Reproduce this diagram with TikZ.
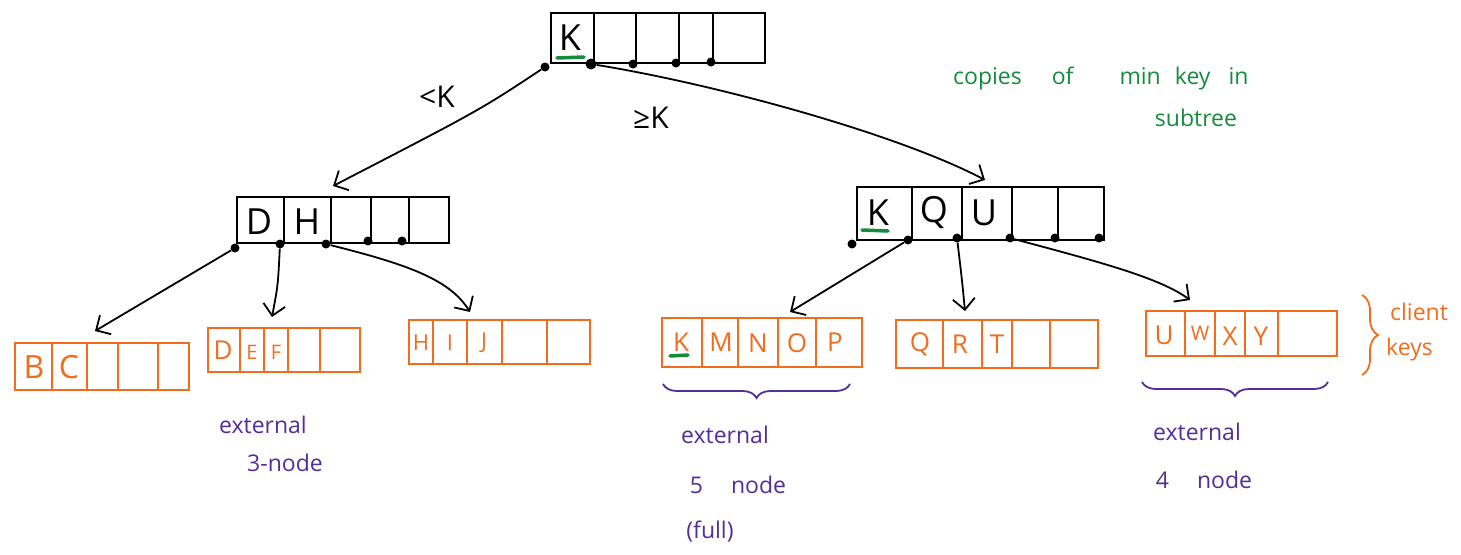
\documentclass[tikz,border=0pt]{standalone}
\usepackage{fontspec}
\setmainfont{Open Sans}
\usetikzlibrary{arrows.meta,decorations.pathreplacing,calc}
\definecolor{inkorange}{RGB}{242,108,30}
\definecolor{inkgreen}{RGB}{20,140,60}
\definecolor{inkpurple}{RGB}{85,45,150}
\tikzset{
  bbox/.style={draw=black, line width=2pt, inner sep=0pt},
  obox/.style={draw=inkorange, line width=2pt, inner sep=0pt},
  bline/.style={draw=black, line width=2pt},
  oline/.style={draw=inkorange, line width=2pt},
  bkey/.style={font=\fontsize{36}{36}\selectfont, inner sep=0pt},
  okey/.style={text=inkorange, font=\fontsize{26}{26}\selectfont, inner sep=0pt},
  ptr/.style={circle, fill=black, inner sep=0pt, minimum size=9pt},
  arr/.style={line width=1.8pt, -{Straight Barb[length=11pt,width=22pt]}},
  gmark/.style={draw=inkgreen, line width=3.5pt, line cap=round},
  pnote/.style={text=inkpurple, font=\fontsize{23}{23}\selectfont, inner sep=0pt},
  gnote/.style={text=inkgreen, font=\fontsize{23}{23}\selectfont, inner sep=0pt},
  onote/.style={text=inkorange, font=\fontsize{23}{23}\selectfont, inner sep=0pt},
  lbl/.style={font=\fontsize{30}{30}\selectfont, inner sep=0pt},
  pbrace/.style={draw=inkpurple, line width=1.8pt, decorate, decoration={brace, amplitude=14pt}},
  obrace/.style={draw=inkorange, line width=1.8pt, decorate, decoration={brace, amplitude=16pt}}
}
\begin{document}
\begin{tikzpicture}[x=1pt,y=-1pt]
\useasboundingbox (0,0) rectangle (1461,554);

% ---------- internal nodes ----------
\node[bbox, minimum width=214, minimum height=50] (root) at (658,38) {};
\foreach \x in {594,636,679,713} \draw[bline] (\x,0 |- root.north) -- (\x,0 |- root.south);
\node[bkey] (rk) at (570,38) {K};
\draw[gmark] (557,58) -- (584,57);
\node[ptr] (r0) at (545,67) {};
\node[ptr, minimum size=11pt] (r1) at (591,64) {};
\node[ptr] (r2) at (633,64) {};
\node[ptr] (r3) at (676,63) {};
\node[ptr] (r4) at (711,62) {};

\node[bbox, minimum width=212, minimum height=46] (ml) at (343,220) {};
\foreach \x in {284,331,371,409} \draw[bline] (\x,0 |- ml.north) -- (\x,0 |- ml.south);
\node[bkey] (mld) at (259,222) {D};
\node[bkey] (mlh) at (307,222) {H};
\node[ptr] (m0) at (235,248) {};
\node[ptr] (m1) at (280,244) {};
\node[ptr] (m2) at (326,244) {};
\node[ptr] (m3) at (368,241) {};
\node[ptr] (m4) at (402,241) {};

\node[bbox, minimum width=247, minimum height=53] (mr) at (980.5,213.5) {};
\foreach \x in {912,962,1012,1058} \draw[bline] (\x,0 |- mr.north) -- (\x,0 |- mr.south);
\node[bkey] (mrk) at (878,213) {K};
\node[bkey] (mrq) at (934,213) {Q};
\node[bkey] (mru) at (984,213) {U};
\draw[gmark] (862,230) -- (888,231);
\node[ptr] (n0) at (852,244) {};
\node[ptr] (n1) at (908,240) {};
\node[ptr] (n2) at (957,238) {};
\node[ptr] (n3) at (1010,238) {};
\node[ptr] (n4) at (1055,238) {};
\node[ptr] (n5) at (1099,238) {};

% ---------- leaves ----------
\node[obox, minimum width=174, minimum height=47] (l1) at (102,366.5) {};
\foreach \x in {52,87,118,158} \draw[oline] (\x,0 |- l1.north) -- (\x,0 |- l1.south);
\node[okey, font=\fontsize{32}{32}\selectfont] at (34,367) {B};
\node[okey, font=\fontsize{32}{32}\selectfont] at (69,367) {C};

\node[obox, minimum width=152, minimum height=44] (l2) at (284,350) {};
\foreach \x in {240,264,288,320} \draw[oline] (\x,0 |- l2.north) -- (\x,0 |- l2.south);
\node[okey] at (223,350) {D};
\node[okey, font=\fontsize{20}{20}\selectfont] at (252,352) {E};
\node[okey, font=\fontsize{20}{20}\selectfont] at (276,352) {F};

\node[obox, minimum width=181, minimum height=44] (l3) at (499.5,342) {};
\foreach \x in {433,467,502,547} \draw[oline] (\x,0 |- l3.north) -- (\x,0 |- l3.south);
\node[okey, font=\fontsize{22}{22}\selectfont] at (421,343) {H};
\node[okey, font=\fontsize{22}{22}\selectfont] at (450,343) {I};
\node[okey, font=\fontsize{22}{22}\selectfont] at (484,343) {J};

\node[obox, minimum width=200, minimum height=49] (l4) at (762,342.5) {};
\foreach \x in {702,738,778,816} \draw[oline] (\x,0 |- l4.north) -- (\x,0 |- l4.south);
\node[okey] at (681,342) {K};
\node[okey] at (721,342) {M};
\node[okey] at (758,343) {N};
\node[okey] at (797,343) {O};
\node[okey] at (835,342) {P};
\draw[gmark] (670,356) -- (688,355);

\node[obox, minimum width=202, minimum height=48] (l5) at (997,344) {};
\foreach \x in {943,982,1012,1050} \draw[oline] (\x,0 |- l5.north) -- (\x,0 |- l5.south);
\node[okey] at (920,344) {Q};
\node[okey] at (960,344) {R};
\node[okey] at (997,344) {T};

\node[obox, minimum width=191, minimum height=45] (l6) at (1241.5,333.5) {};
\foreach \x in {1185,1215,1245,1278} \draw[oline] (\x,0 |- l6.north) -- (\x,0 |- l6.south);
\node[okey] at (1164,335) {U};
\node[okey, font=\fontsize{20}{20}\selectfont] at (1200,333) {W};
\node[okey] at (1230,336) {X};
\node[okey] at (1261,336) {Y};

% ---------- connectors ----------
\coordinate (e1) at (333,186);
\coordinate (e2) at (985,180);
\draw[arr] (r0) .. controls (480,110) .. (e1);
\draw[arr] (r1) .. controls (720,85) and (900,135) .. (e2);
\node[lbl] (lt) at (437,97) {<K};
\node[lbl] (ge) at (651,118) {≥K};

\coordinate (f1) at (95,331);
\coordinate (f2) at (272,317);
\coordinate (f3) at (470,312);
\coordinate (f4) at (790,312);
\coordinate (f5) at (965,311);
\coordinate (f6) at (1190,300);
\draw[arr] (m0) -- (f1);
\draw[arr] (m1) .. controls (278,285) .. (f2);
\draw[arr] (m2) .. controls (410,265) and (450,280) .. (f3);
\draw[arr] (n1) -- (f4);
\draw[arr] (n2) .. controls (962,280) .. (f5);
\draw[arr] (n3) .. controls (1100,262) and (1160,278) .. (f6);

% ---------- annotations ----------
\node[gnote, anchor=west] (cp) at (953,78) {copies\hspace{30pt}of\hspace{46pt}min\hspace{14pt}key\hspace{18pt}in};
\node[gnote] (st) at (1196,118) {subtree};

\draw[obrace] (1362,295) -- (1362,375);
\node[onote, anchor=west] (cl) at (1390,312) {client};
\node[onote, anchor=west] (ky) at (1386,350) {keys};

\draw[pbrace] (850,384) -- (663,384);
\draw[pbrace] (1328,382) -- (1142,382);

\node[pnote] (x2) at (263,425) {external};
\node[pnote] (x2b) at (285,463) {3-node};
\node[pnote] (x4) at (725,435) {external};
\node[pnote] (x4b) at (738,485) {5\hspace{28pt}node};
\node[pnote] (x4c) at (710,532) {(full)};
\node[pnote] (x6) at (1197,432) {external};
\node[pnote] (x6b) at (1204,480) {4\hspace{28pt}node};
\end{tikzpicture}
\end{document}
